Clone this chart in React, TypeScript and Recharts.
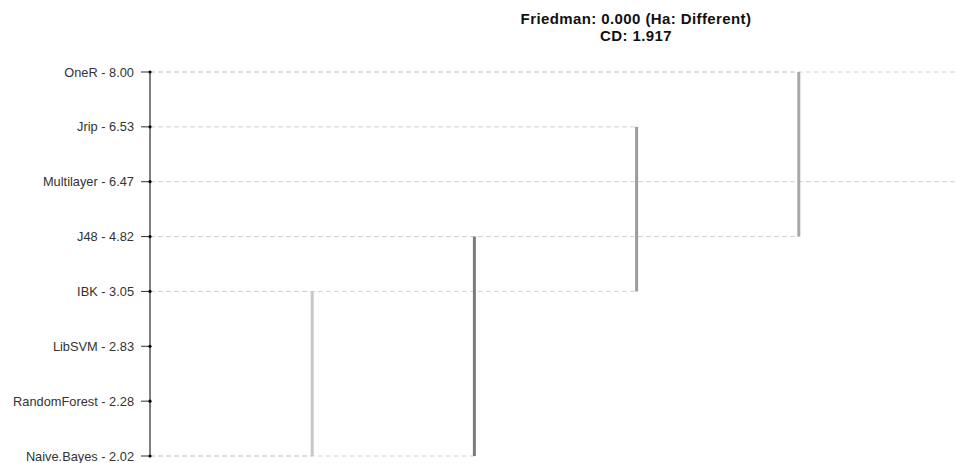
import React from "react";
import { ComposedChart, XAxis, YAxis, ReferenceLine, ReferenceDot } from "recharts";

// mean ranks from the Friedman test
const methods = ["OneR", "Jrip", "Multilayer", "J48", "IBK", "LibSVM", "RandomForest", "Naive.Bayes"];
const ranks = [8.0, 6.53, 6.47, 4.82, 3.05, 2.83, 2.28, 2.02];

// groups of methods that are not significantly different (top / bottom member)
const groupTop = ["IBK", "J48", "Jrip", "OneR", "OneR"];
const groupBottom = ["Naive.Bayes", "Naive.Bayes", "IBK", "J48", "Multilayer"];

const titleLines = ["Friedman: 0.000 (Ha: Different)", "CD: 1.917"];

const groupColors = ["#c8c8c8", "#7c7c7c", "#9c9c9c", "#a8a8a8", "#a8a8a8"];

const labelOf = (name: string) => {
  const i = methods.indexOf(name);
  return `${name} - ${ranks[i].toFixed(2)}`;
};

export default function App() {
  const data = methods.map((m) => ({ label: labelOf(m) }));

  return (
    <div
      style={{
        position: "absolute",
        left: 0,
        top: 0,
        width: 956,
        height: 463,
        overflow: "hidden",
        background: "#fff",
        fontFamily: "'Liberation Sans', Arial, sans-serif",
      }}
    >
      <div
        style={{
          position: "absolute",
          left: 436,
          top: 10,
          width: 400,
          textAlign: "center",
          fontWeight: "bold",
          fontSize: 15,
          letterSpacing: "0.4px",
          lineHeight: "17px",
          color: "#111",
        }}
      >
        {titleLines.map((t) => (
          <div key={t}>{t}</div>
        ))}
      </div>
      <ComposedChart
        width={961}
        height={463}
        layout="vertical"
        data={data}
        margin={{ top: 72, right: 0, bottom: 7, left: 0 }}
      >
        <XAxis type="number" hide domain={[0, groupTop.length]} allowDataOverflow />
        <YAxis
          type="category"
          dataKey="label"
          scale="point"
          width={150}
          interval={0}
          tickSize={9}
          tickMargin={7}
          axisLine={{ stroke: "#000" }}
          tickLine={{ stroke: "#333" }}
          tick={{ fill: "#333", fontSize: 12.8 }}
        />
        {groupTop.map((top, g) =>
          [top, groupBottom[g]].map((name) => (
            <ReferenceLine
              key={`grid-${g}-${name}`}
              segment={[
                { x: 0, y: labelOf(name) },
                { x: g + 1, y: labelOf(name) },
              ]}
              stroke="#d2d2d2"
              strokeDasharray="5 3"
              strokeWidth={1}
              ifOverflow="visible"
            />
          ))
        )}
        {groupTop.map((top, g) => (
          <ReferenceLine
            key={`bar-${g}`}
            segment={[
              { x: g + 1, y: labelOf(top) },
              { x: g + 1, y: labelOf(groupBottom[g]) },
            ]}
            stroke={groupColors[g]}
            strokeWidth={3}
            ifOverflow="visible"
          />
        ))}
        {methods.map((m) => (
          <ReferenceDot
            key={m}
            x={0}
            y={labelOf(m)}
            r={1.6}
            fill="#000"
            stroke="none"
            ifOverflow="visible"
          />
        ))}
      </ComposedChart>
    </div>
  );
}
